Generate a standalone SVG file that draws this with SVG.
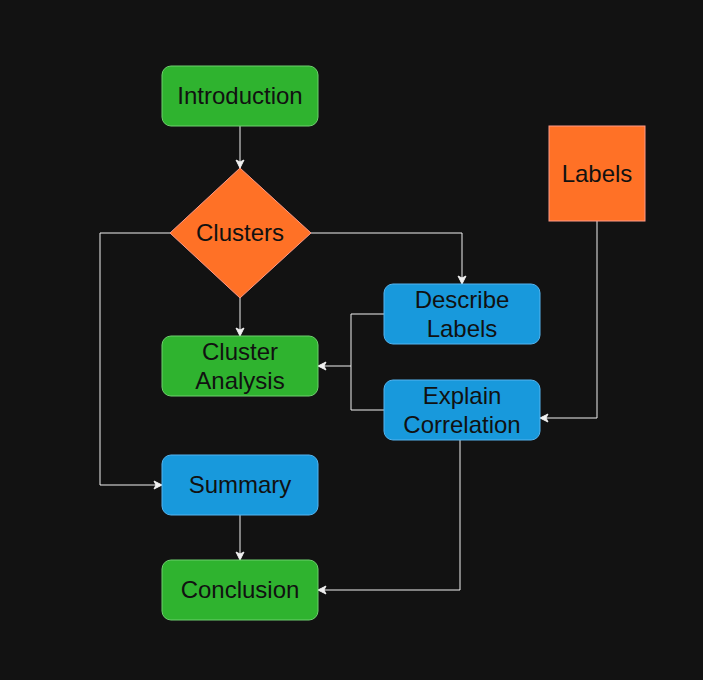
<svg xmlns="http://www.w3.org/2000/svg" width="703" height="680" viewBox="0 0 703 680">
<defs>
<marker id="arr" markerWidth="10" markerHeight="10" viewBox="0 0 10 10" refX="9" refY="5" orient="auto" markerUnits="userSpaceOnUse">
<path d="M1,1 L9,5 L1,9 L3,5 Z" fill="#f0f0f0" stroke="#f0f0f0" stroke-width="1"/>
</marker>
<style>
.g{fill:#2fb32f;stroke:#6fd06f;stroke-width:1}
.b{fill:#1899dc;stroke:#55b4f0;stroke-width:1}
.o{fill:#ff7126;stroke:#ff9a88;stroke-width:1}
.t{font-family:"Liberation Sans",Arial,sans-serif;font-size:24px;fill:#111;text-anchor:middle}
.e{fill:none;stroke:#f0f0f0;stroke-width:1;marker-end:url(#arr)}
.n{fill:none;stroke:#f0f0f0;stroke-width:1}
</style>
</defs>
<rect width="703" height="680" fill="#121212"/>
<g id="connectors">
<path class="e" d="M240,126 L240,168"/>
<path class="e" d="M170,233 L100,233 L100,485 L162,485"/>
<path class="e" d="M311,233 L462,233 L462,284"/>
<path class="e" d="M240,298 L240,336"/>
<path class="e" d="M384,314 L351,314 L351,366 L318,366"/>
<path class="n" d="M384,410 L351,410 L351,366"/>
<path class="e" d="M597,221 L597,418 L540,418"/>
<path class="e" d="M460,440 L460,590 L318,590"/>
<path class="e" d="M240,515 L240,560"/>
</g>
<g id="introduction"><rect class="g" x="162" y="66" width="156" height="60" rx="9"/><text class="t" x="240" y="104">Introduction</text></g>
<g id="clusters"><path class="o" d="M240,168 L311,233 L240,298 L170,233 Z"/><text class="t" x="240" y="241">Clusters</text></g>
<g id="cluster-analysis"><rect class="g" x="162" y="336" width="156" height="60" rx="9"/><text class="t" x="240" y="360">Cluster</text><text class="t" x="240" y="389">Analysis</text></g>
<g id="summary"><rect class="b" x="162" y="455" width="156" height="60" rx="9"/><text class="t" x="240" y="493">Summary</text></g>
<g id="conclusion"><rect class="g" x="162" y="560" width="156" height="60" rx="9"/><text class="t" x="240" y="598">Conclusion</text></g>
<g id="describe-labels"><rect class="b" x="384" y="284" width="156" height="60" rx="9"/><text class="t" x="462" y="308">Describe</text><text class="t" x="462" y="337">Labels</text></g>
<g id="explain-correlation"><rect class="b" x="384" y="380" width="156" height="60" rx="9"/><text class="t" x="462" y="404">Explain</text><text class="t" x="462" y="433">Correlation</text></g>
<g id="labels"><rect class="o" x="549" y="126" width="96" height="95"/><text class="t" x="597" y="182">Labels</text></g>
</svg>
